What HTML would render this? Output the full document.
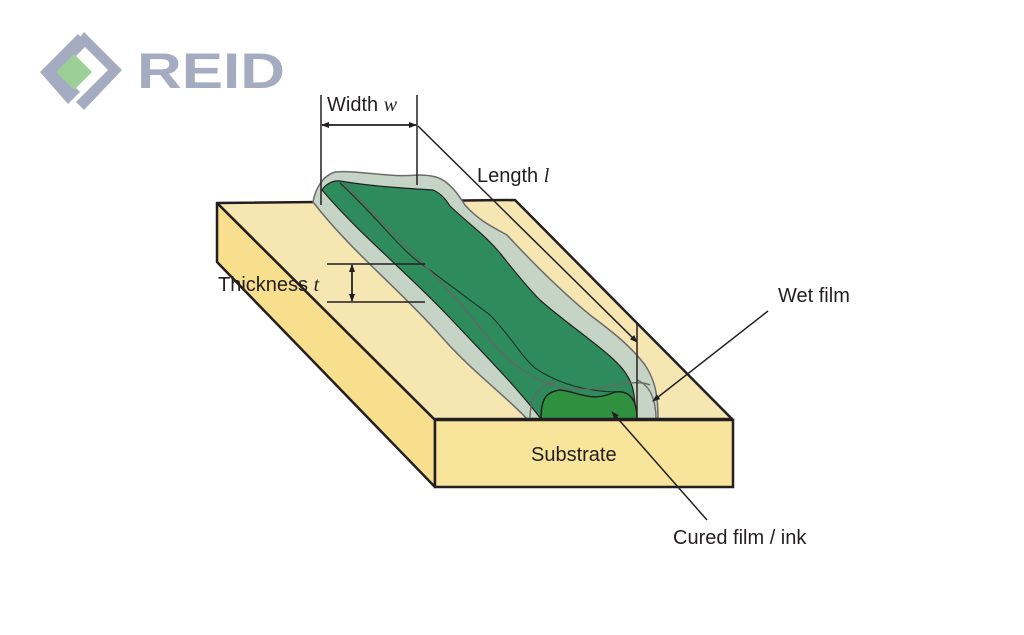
<!DOCTYPE html>
<html><head><style>
html,body{margin:0;padding:0;background:#fff;width:1024px;height:635px;overflow:hidden}
svg{display:block}
text{font-family:"Liberation Sans",sans-serif;fill:#231f20}
</style></head><body>
<svg width="1024" height="635" viewBox="0 0 1024 635" xmlns="http://www.w3.org/2000/svg">
<defs>
<marker id="ah" markerWidth="8" markerHeight="6" refX="7" refY="3" orient="auto" markerUnits="userSpaceOnUse"><path d="M0,0 L8,3 L0,6 z" fill="#231f20"/></marker>
</defs>
<!-- logo -->
<g>
<polygon points="40,72 78,34 88,44 60,72 80,92 68,104" fill="#a5acc2"/>
<polygon points="56,72 74,54 92,72 74,90" fill="#9ccf98"/>
<path d="M84,32 L122,70 L84,110 L76,102 L108,70 L78,40 Z" fill="#a5acc2"/>
<text x="137" y="88" textLength="148" lengthAdjust="spacingAndGlyphs" style="font-weight:bold;font-size:50px;fill:#a5acc2;font-family:'Liberation Sans',sans-serif">REID</text>
</g>
<!-- substrate -->
<polygon points="217,203 515,200 733,420 435,420" fill="#f6e6b2" stroke="#231f20" stroke-width="2.5" stroke-linejoin="round"/>
<polygon points="217,203 435,420 435,487 217,262" fill="#f7df8e" stroke="#231f20" stroke-width="2.5" stroke-linejoin="round"/>
<rect x="435" y="420" width="298" height="67" fill="#f8e49a" stroke="#231f20" stroke-width="2.5"/>
<!-- wet film -->
<path d="M313,202 C315,190 322,176 335,172 C360,170 390,178 417,175 C432,175 440,177 447,183 C455,190 457,193 465,205 C480,222 495,228 507,235 C530,260 560,290 590,315 C610,330 630,345 645,365 C655,380 658,395 658,419 L527,419 C505,395 470,370 440,335 C400,290 350,250 313,202 Z" fill="#c6d4c6" stroke="#6b6b6b" stroke-width="1.5"/>
<!-- green body -->
<path d="M322,190 C325,185 332,180 340,181 C370,186 400,188 433,190 C442,194 446,200 450,206 C470,225 485,235 500,253 C515,272 528,288 540,300 C560,318 585,335 605,352 C622,366 632,378 634,395 L637,419 L541,419 C515,385 480,350 450,318 C410,275 360,235 322,190 Z" fill="#2e8c5c" stroke="#231f20" stroke-width="1.2"/>
<path d="M340,183 C380,220 400,250 423,265 C450,285 470,300 490,315 C510,335 520,355 535,368 C560,385 590,392 620,392" fill="none" stroke="#1e3a2a" stroke-width="1.2"/>
<path d="M343,183 C390,230 430,270 460,303 C490,340 505,360 527,373 C550,388 575,392 600,388 C620,384 640,380 650,385" fill="none" stroke="#666" stroke-width="1.3"/>
<path d="M530,419 C530,395 540,385 555,382" fill="none" stroke="#666" stroke-width="1.3"/>
<path d="M637,380 C650,385 656,400 656,419" fill="none" stroke="#666" stroke-width="1.3"/>
<!-- cured -->
<path d="M541,419 C541,400 545,392 560,390 C580,392 590,403 615,392 C630,390 637,400 637,419 Z" fill="#2f9140" stroke="#231f20" stroke-width="1.5"/>
<line x1="435" y1="419" x2="733" y2="419" stroke="#231f20" stroke-width="2.5"/>
<!-- dimensions -->
<g stroke="#231f20" stroke-width="1.5" fill="none">
<line x1="321" y1="95" x2="321" y2="205"/>
<line x1="417" y1="95" x2="417" y2="185"/>
<line x1="322" y1="125" x2="416" y2="125" marker-end="url(#ah)"/>
<line x1="416" y1="125" x2="322" y2="125" marker-end="url(#ah)"/>
<line x1="418" y1="126" x2="637" y2="342" marker-end="url(#ah)"/>
<line x1="637" y1="322" x2="637" y2="419"/>
<line x1="327" y1="264" x2="425" y2="264"/>
<line x1="327" y1="302" x2="425" y2="302"/>
<line x1="352" y1="265" x2="352" y2="301" marker-end="url(#ah)"/>
<line x1="352" y1="301" x2="352" y2="265" marker-end="url(#ah)"/>
<line x1="768" y1="311" x2="653" y2="401" marker-end="url(#ah)"/>
<line x1="707" y1="520" x2="612" y2="412" marker-end="url(#ah)"/>
</g>
<text x="327" y="111" font-size="20">Width <tspan font-family="Liberation Serif" font-style="italic">w</tspan></text>
<text x="477" y="182" font-size="20">Length <tspan font-family="Liberation Serif" font-style="italic">l</tspan></text>
<text x="218" y="291" font-size="20">Thickness <tspan font-family="Liberation Serif" font-style="italic">t</tspan></text>
<text x="778" y="302" font-size="20">Wet film</text>
<text x="531" y="461" font-size="20">Substrate</text>
<text x="673" y="544" font-size="20">Cured film / ink</text>
</svg>
</body></html>
